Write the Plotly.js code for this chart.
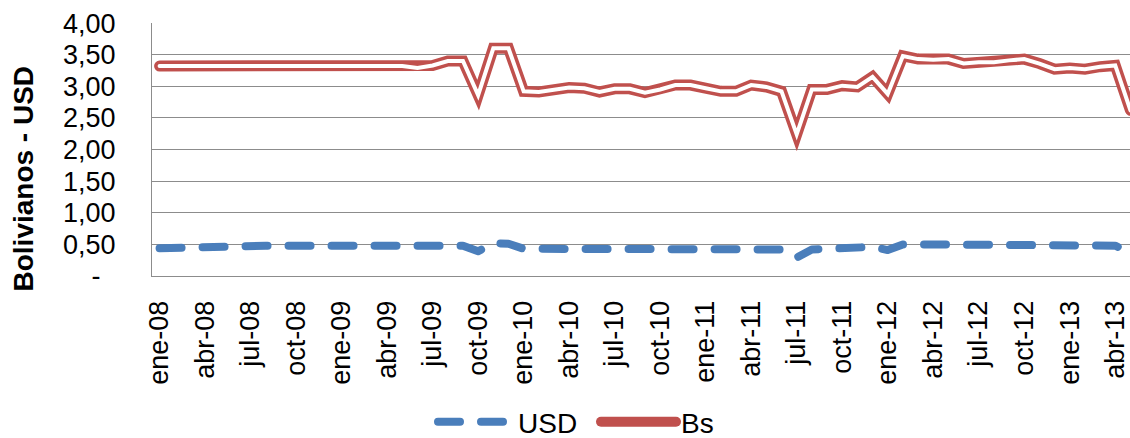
<!DOCTYPE html>
<html>
<head>
<meta charset="utf-8">
<script src="https://cdn.plot.ly/plotly-3.0.1.min.js"></script>
<style>
html,body{margin:0;padding:0;overflow:hidden;background:#fff;}
#chart{width:1146px;height:438px;}
.scatterlayer .js-line{stroke-linecap:round;stroke-miterlimit:12;}
.scatterlayer .trace:first-child .js-line{stroke-linejoin:round;}
.legend .js-line{stroke-linecap:round;}
</style>
</head>
<body>
<div id="chart"></div>
<script>
const categories = [
  "ene-08","feb-08","mar-08","abr-08","may-08","jun-08","jul-08","ago-08","sep-08","oct-08","nov-08","dic-08",
  "ene-09","feb-09","mar-09","abr-09","may-09","jun-09","jul-09","ago-09","sep-09","oct-09","nov-09","dic-09",
  "ene-10","feb-10","mar-10","abr-10","may-10","jun-10","jul-10","ago-10","sep-10","oct-10","nov-10","dic-10",
  "ene-11","feb-11","mar-11","abr-11","may-11","jun-11","jul-11","ago-11","sep-11","oct-11","nov-11","dic-11",
  "ene-12","feb-12","mar-12","abr-12","may-12","jun-12","jul-12","ago-12","sep-12","oct-12","nov-12","dic-12",
  "ene-13","feb-13","mar-13","abr-13","may-13"
];

const usdValues = [
  0.44,0.45,0.46,0.46,0.47,0.47,0.48,0.48,0.48,0.48,0.48,0.48,
  0.48,0.48,0.48,0.48,0.48,0.47,0.48,0.49,0.48,0.39,0.52,0.51,
  0.43,0.43,0.43,0.43,0.43,0.43,0.43,0.43,0.43,0.43,0.43,0.43,
  0.43,0.43,0.44,0.44,0.44,0.42,0.29,0.42,0.43,0.44,0.44,0.46,
  0.41,0.50,0.50,0.50,0.50,0.49,0.49,0.49,0.49,0.49,0.49,0.48,
  0.48,0.48,0.48,0.48,0.37
];

const bsValues = [
  3.32,3.32,3.32,3.32,3.32,3.32,3.32,3.32,3.32,3.32,3.32,3.32,
  3.32,3.32,3.32,3.32,3.32,3.29,3.33,3.40,3.40,2.86,3.60,3.60,
  2.92,2.91,2.95,2.98,2.97,2.91,2.96,2.96,2.90,2.95,3.02,3.02,
  2.97,2.92,2.92,3.02,2.99,2.92,2.24,2.95,2.95,3.01,2.99,3.15,
  2.88,3.48,3.43,3.42,3.43,3.36,3.38,3.38,3.41,3.43,3.36,3.27,
  3.29,3.27,3.31,3.33,2.62
];

const xTickLabels = categories.filter((c, i) => i % 3 === 0);
const yTickVals = [0, 0.5, 1, 1.5, 2, 2.5, 3, 3.5, 4];
const yTickText = ["-\u00a0\u00a0", "0,50", "1,00", "1,50", "2,00", "2,50", "3,00", "3,50", "4,00"];

const FONT = '"Liberation Sans", Arial, sans-serif';
const BLUE = '#4A7EBB';
const RED = '#C0504D';
const GRID = '#8c8c8c';

const traces = [
  {
    x: categories, y: usdValues, name: 'USD', type: 'scatter', mode: 'lines',
    line: {color: BLUE, width: 8, dash: '22px,21px'}
  },
  {
    x: categories, y: bsValues, name: 'Bs', type: 'scatter', mode: 'lines',
    line: {color: RED, width: 11}
  },
  {
    x: categories, y: bsValues, name: 'Bs', type: 'scatter', mode: 'lines',
    line: {color: '#ffffff', width: 4}, showlegend: false, hoverinfo: 'skip'
  }
];

const layout = {
  width: 1146, height: 438,
  margin: {l: 152, r: 8, t: 23, b: 162},
  paper_bgcolor: '#ffffff', plot_bgcolor: '#ffffff',
  font: {family: FONT, color: '#000000', size: 27},
  showlegend: true,
  legend: {
    orientation: 'h', xref: 'container', yref: 'container',
    x: 596 / 1146, xanchor: 'center', y: 1 - 422 / 438, yanchor: 'middle',
    font: {family: FONT, size: 28, color: '#000000'},
    itemwidth: 75, entrywidth: 73, entrywidthmode: 'pixels',
    bgcolor: 'rgba(0,0,0,0)'
  },
  xaxis: {
    type: 'category', range: [-0.5, 64.5],
    tickvals: xTickLabels, ticktext: xTickLabels, tickangle: -90,
    showgrid: false, zeroline: false, showline: true, linecolor: GRID, linewidth: 1,
    ticks: '', ticklabelstandoff: 13,
    tickfont: {family: FONT, size: 27, color: '#000000'}
  },
  yaxis: {
    range: [0, 4.001], tickvals: yTickVals, ticktext: yTickText,
    showgrid: true, gridcolor: GRID, gridwidth: 1,
    zeroline: false, showline: true, linecolor: GRID, linewidth: 1,
    ticks: '', ticklabelstandoff: 30,
    tickfont: {family: FONT, size: 27, color: '#000000'}
  },
  annotations: [{
    text: '<b>Bolivianos - USD</b>', textangle: -90,
    xref: 'paper', yref: 'paper', x: (23 - 152) / 986, y: (276 - 178.5) / 253,
    xanchor: 'center', yanchor: 'middle', showarrow: false,
    font: {family: FONT, size: 28, color: '#000000'}
  }]
};

Plotly.newPlot('chart', traces, layout, {staticPlot: true, displayModeBar: false});
</script>
</body>
</html>
